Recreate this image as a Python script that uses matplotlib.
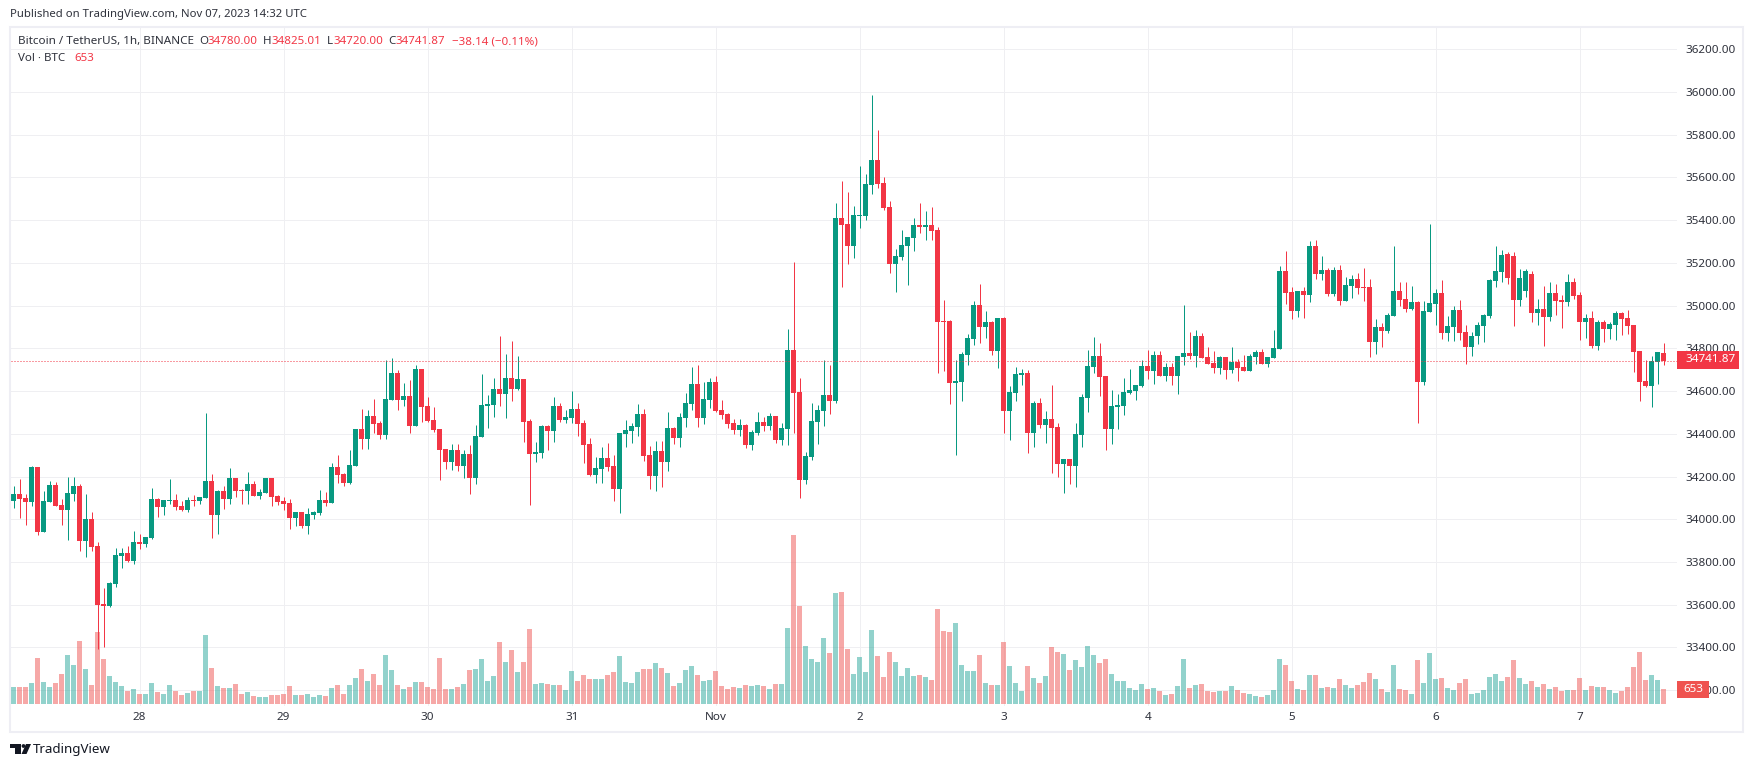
import matplotlib
matplotlib.use("Agg")
import matplotlib.pyplot as plt
from matplotlib.patches import Rectangle, Polygon, Circle
import numpy as np

W, H = 1754, 767
plt.rcParams['font.family'] = ['Noto Sans', 'DejaVu Sans']

#hourly candles, Oct 27 03:00 to Nov 7 14:00
opens = [
34087,34118,34099,34081,34244,33940,34081,34160,34067,34043,34118,34155,33898,34001,33875,33603,33594,33697,33828,33842,
33804,33893,33884,33912,34095,34057,34085,34090,34062,34043,34090,34085,34099,34179,34020,34132,34095,34193,34137,34132,
34165,34109,34123,34193,34109,34085,34076,34006,34034,33968,34020,34029,34090,34076,34244,34212,34170,34249,34422,34375,
34483,34450,34394,34558,34684,34558,34577,34436,34703,34530,34464,34422,34329,34268,34324,34249,34305,34193,34385,34530,
34535,34609,34586,34661,34609,34656,34460,34305,34310,34436,34413,34530,34464,34474,34516,34450,34352,34207,34235,34286,
34249,34141,34399,34413,34431,34492,34300,34202,34319,34268,34427,34380,34474,34539,34633,34474,34558,34642,34511,34492,
34450,34418,34441,34347,34403,34455,34436,34483,34371,34422,34792,34595,34183,34293,34455,34506,34581,34553,35410,35382,
35279,35419,35419,35564,35681,35574,35461,35194,35227,35279,35316,35377,35368,35377,35354,34928,34928,34637,34642,34769,
34843,35003,34900,34923,34787,34942,34506,34591,34675,34684,34404,34544,34441,34469,34432,34258,34282,34249,34394,34567,
34712,34764,34670,34422,34525,34530,34591,34600,34623,34717,34694,34769,34670,34712,34670,34759,34778,34764,34857,34759,
34731,34708,34759,34698,34736,34712,34694,34759,34783,34727,34755,34797,35162,35063,34974,35068,35049,35279,35148,35166,
35054,35166,35021,35092,35124,35087,35087,34829,34900,34881,34951,35068,35031,34984,35017,34642,34970,35007,35059,34872,
34900,34979,34876,34806,34857,34904,34951,35115,35157,35240,35230,35026,35070,35150,34967,34982,34946,35059,35026,35017,
35110,35049,34923,34942,34811,34923,34890,34909,34965,34942,34909,34787,34647,34623,34738,34780]
closes = [
34118,34095,34081,34244,33940,34085,34160,34062,34043,34123,34155,33898,34001,33870,33599,33594,33702,33832,33842,33804,
33893,33884,33917,34095,34057,34090,34090,34057,34043,34090,34085,34104,34179,34020,34132,34095,34193,34132,34132,34165,
34109,34127,34193,34104,34081,34071,34006,34034,33968,34024,34034,34090,34076,34244,34207,34170,34254,34422,34375,34483,
34446,34394,34563,34684,34558,34577,34436,34703,34525,34460,34418,34324,34268,34324,34249,34305,34193,34389,34535,34539,
34609,34586,34661,34609,34656,34455,34305,34315,34436,34413,34530,34464,34478,34516,34446,34347,34207,34240,34286,34244,
34141,34403,34418,34436,34492,34296,34202,34319,34268,34427,34380,34478,34544,34633,34474,34562,34642,34506,34488,34446,
34418,34441,34347,34408,34455,34436,34483,34371,34427,34792,34591,34183,34296,34460,34511,34581,34553,35410,35377,35279,
35424,35424,35569,35681,35569,35457,35194,35232,35283,35321,35377,35368,35377,35349,34923,34923,34637,34647,34773,34848,
35003,34900,34923,34787,34942,34506,34595,34680,34684,34404,34544,34441,34469,34427,34258,34282,34249,34399,34572,34717,
34764,34666,34422,34530,34534,34595,34605,34628,34717,34694,34769,34670,34712,34670,34764,34778,34764,34857,34755,34727,
34708,34759,34698,34736,34708,34694,34764,34783,34727,34759,34801,35162,35059,34974,35068,35049,35279,35148,35166,35054,
35166,35021,35096,35124,35082,35082,34829,34900,34881,34956,35068,35026,34984,35017,34642,34974,35012,35059,34872,34904,
34979,34872,34806,34857,34909,34956,35119,35162,35236,35130,35026,35130,35160,34967,34982,34946,35059,35021,35017,35110,
35046,34923,34940,34811,34923,34890,34914,34965,34937,34904,34783,34642,34623,34741,34783,34741.87]
highs = [
34156,34188,34118,34249,34244,34132,34179,34174,34095,34198,34198,34165,34118,34034,33893,33678,33706,33865,33865,33875,
33945,33931,33917,34146,34099,34090,34188,34118,34085,34104,34113,34104,34497,34212,34137,34155,34240,34193,34141,34221,
34179,34141,34193,34193,34113,34104,34095,34034,34034,34053,34039,34137,34127,34263,34301,34216,34324,34422,34516,34511,
34563,34460,34744,34755,34698,34638,34652,34722,34703,34572,34525,34422,34329,34352,34352,34324,34347,34441,34680,34581,
34661,34858,34773,34834,34764,34656,34469,34361,34441,34441,34572,34544,34511,34600,34544,34464,34380,34291,34338,34357,
34300,34403,34464,34450,34539,34516,34343,34366,34366,34502,34431,34497,34591,34712,34722,34642,34661,34670,34558,34497,
34469,34469,34446,34417,34502,34478,34497,34483,34450,34890,35204,34661,34315,34544,34535,34745,34722,35480,35583,35531,
35466,35653,35616,35985,35822,35602,35489,35265,35354,35321,35410,35480,35442,35461,35368,35026,34932,34745,34783,34867,
35021,35101,34974,34928,34942,34946,34623,34712,34703,34698,34553,34567,34506,34628,34451,34282,34282,34451,34586,34792,
34853,34825,34670,34605,34586,34661,34703,34628,34745,34792,34787,34787,34731,34731,34764,35003,34876,34886,34872,34806,
34787,34764,34759,34806,34750,34769,34773,34792,34797,34759,34886,35185,35255,35087,35068,35087,35302,35307,35232,35176,
35180,35190,35133,35143,35152,35176,35124,34937,34918,34965,35279,35110,35110,35091,35021,35021,35382,35077,35119,34951,
34998,35026,34909,34876,34923,34960,35124,35279,35260,35250,35250,35170,35170,35160,35031,35090,35110,35100,35050,35150,
35130,35062,34960,34975,34933,34933,34923,34975,34970,34979,34909,34787,34745,34764,34783,34825.01]
lows = [
34053,34006,33973,34062,33926,33940,34081,34062,33973,33903,34085,33851,33823,33851,33393,33400,33589,33683,33772,33800,
33790,33861,33870,33907,34010,34020,34071,34043,34039,34034,34062,34071,34099,33912,33931,34048,34071,34104,34071,34071,
34109,34095,34123,34062,34067,34043,33954,33968,33959,33931,34001,34020,34062,34076,34170,34155,34165,34249,34329,34329,
34404,34375,34375,34558,34511,34530,34403,34436,34455,34455,34408,34184,34235,34230,34226,34191,34118,34165,34385,34427,
34478,34530,34474,34553,34605,34361,34067,34268,34287,34324,34361,34455,34450,34450,34390,34263,34202,34171,34168,34226,
34085,34029,34338,34357,34390,34272,34141,34132,34151,34226,34352,34338,34431,34511,34431,34446,34520,34502,34469,34427,
34399,34390,34333,34324,34394,34413,34417,34357,34347,34347,34403,34099,34165,34277,34352,34436,34492,34544,35087,35194,
35223,35363,35400,35522,35550,35447,35152,35063,35213,35096,35255,35340,35307,35307,34684,34694,34539,34301,34553,34722,
34815,34825,34848,34769,34708,34403,34371,34553,34628,34310,34338,34427,34357,34216,34198,34123,34165,34151,34338,34502,
34684,34577,34324,34352,34422,34488,34586,34558,34619,34656,34633,34670,34647,34628,34586,34722,34750,34712,34755,34727,
34684,34680,34656,34684,34647,34694,34694,34727,34727,34712,34755,34797,35007,34937,34946,34942,35017,35124,35119,35045,
35045,35003,35021,35035,35054,35021,34759,34773,34806,34872,34951,34998,34970,34979,34450,34628,34970,34909,34843,34834,
34834,34839,34727,34764,34820,34829,34942,35087,35110,35100,34904,35000,35040,34925,34909,34811,34928,34956,34895,35000,
35030,34839,34848,34801,34792,34829,34843,34839,34862,34867,34689,34553,34619,34525,34633,34720]
volumes = [
740,740,740,914,2001,957,740,914,1305,2132,1697,2741,1523,827,3132,1958,1218,957,783,566,
653,435,435,914,522,435,827,566,392,479,566,566,3002,1566,783,696,696,870,435,522,
348,305,305,392,392,435,783,392,392,435,305,392,348,696,827,435,827,1131,1523,1001,
1305,827,2132,1479,827,653,740,957,957,740,653,2001,653,653,740,870,1479,1523,1958,1001,
1218,2697,1827,2349,1392,1827,3263,870,914,870,827,827,609,1436,1001,1262,1088,1088,1088,1262,
1392,2088,957,914,1392,1523,1523,1784,1566,1349,783,914,1479,1653,1262,1001,1044,1436,783,653,
740,696,827,783,827,783,653,870,870,3306,7352,4263,2523,1958,1827,2871,2219,4829,4872,2393,
1305,2045,1392,3219,2088,1175,2262,1827,1218,1566,1218,1262,1175,1044,4133,3176,3132,3524,1697,1436,
1436,2132,914,827,827,2697,1653,914,566,1653,1131,914,1218,2480,2262,2175,1479,1914,1610,2523,
2132,1784,1958,1305,1001,1001,696,609,870,653,696,566,392,435,783,1958,696,827,870,566,
522,566,566,783,609,479,435,348,305,392,609,1958,1697,1001,653,609,1262,1262,696,740,
696,1088,827,696,827,957,1349,1088,653,522,1697,653,609,435,1914,914,2219,1088,1131,696,
609,914,1088,435,479,609,1175,1305,1001,1175,1914,1131,870,1001,740,870,653,740,566,609,
609,1131,609,783,740,740,609,479,566,740,1610,2262,1044,1262,1044,653]

day_labels = ['28', '29', '30', '31', 'Nov', '2', '3', '4', '5', '6', '7']
day_index = [21, 45, 69, 93, 117, 141, 165, 189, 213, 237, 261]
price_ticks = list(range(33200, 36400, 200))
last_price = 34741.87
last_volume = 653

GREEN = '#089981'
RED = '#f23645'
VOL_GREEN = '#26a69a'
VOL_RED = '#ef5350'
GRID = '#efeff2'
FRAME = '#eeeef4'
TEXT = '#2f323c'

fig = plt.figure(figsize=(W / 100, H / 100), dpi=100)

# pane in pixels: x 11..1677, y 27..706
rect = [11 / W, 1 - 706 / H, 1666 / W, 679 / H]
ax = fig.add_axes(rect)
ax_vol = ax.twinx()
ax_c = ax.twinx()
ax.set_zorder(1)
ax_vol.set_zorder(2)
ax_c.set_zorder(3)
ax_vol.patch.set_visible(False)
ax_c.patch.set_visible(False)

xlim = (-0.4167, 277.17)
ylim = (33126, 36303.6)
for a in (ax, ax_vol, ax_c):
    a.set_xlim(xlim)
    for s in a.spines.values():
        s.set_visible(False)
ax.set_ylim(ylim)
ax_c.set_ylim(ylim)
ax_vol.set_ylim(-87, 29450)
ax_vol.set_yticks([])
ax_c.set_yticks([])

# grid and scales
ax.set_xticks(day_index)
ax.set_xticklabels(day_labels)
ax.set_yticks(price_ticks)
ax.set_yticklabels(['%.2f' % p for p in price_ticks])
ax.yaxis.tick_right()
ax.tick_params(axis='y', length=0, pad=5.8, labelsize=8.4, labelcolor=TEXT)
ax.tick_params(axis='x', length=0, pad=4.2, labelsize=8.4, labelcolor=TEXT)
ax.grid(True, color=GRID, lw=0.72)
ax.set_axisbelow(True)

o = np.array(opens)
c = np.array(closes)
idx = np.arange(len(o))
up = c >= o
colors = np.where(up, GREEN, RED)

# volume
ax_vol.bar(idx, volumes, width=5 / 6, color=np.where(up, VOL_GREEN, VOL_RED), alpha=0.5, lw=0)

# candles
ax_c.vlines(idx, lows, highs, colors=colors, lw=0.72)
bot = np.minimum(o, c)
hgt = np.maximum(np.abs(c - o), 5)
ax_c.bar(idx, hgt, bottom=bot, width=5 / 6, color=colors, lw=0)
last_line = ax_c.axhline(last_price, color=RED, lw=0.72, ls=(0, (1, 2)))
last_line.set_snap(True)

# overlay in pixel coordinates for the frame, the legend and the price tags
over = fig.add_axes([0, 0, 1, 1], zorder=10)
over.set_xlim(0, W)
over.set_ylim(H, 0)
over.axis('off')
over.add_patch(Rectangle((10, 27), 1733, 705, fill=False, ec=FRAME, lw=1.5))

def label(x, y, s, color=TEXT, size=8.4, ha='left'):
    over.text(x, y, s, color=color, fontsize=size, ha=ha, va='center')

label(10, 14.5, 'Published on TradingView.com, Nov 07, 2023 14:32 UTC', size=8.15)
label(18, 41.5, 'Bitcoin / TetherUS, 1h, BINANCE', size=8.4)
label(199, 41.5, 'O', size=8.3)
label(208, 41.5, '34780.00', RED, 8.3)
label(263, 41.5, 'H', size=8.3)
label(271, 41.5, '34825.01', RED, 8.3)
label(327, 41.5, 'L', size=8.3)
label(333, 41.5, '34720.00', RED, 8.3)
label(388, 41.5, 'C', size=8.3)
label(396, 41.5, '34741.87', RED, 8.3)
label(452, 41.5, '\u221238.14 (\u22120.11%)', RED, 8.3)
label(18, 58.5, 'Vol \u00b7 BTC', size=8.3)
label(74, 58.5, str(last_volume), RED, 8.3)

over.add_patch(Rectangle((1677, 351), 62, 18, fc=RED, ec='none'))
label(1710, 360, '%.2f' % last_price, 'white', 8.4, 'center')
over.add_patch(Rectangle((1677, 681), 32, 17, fc=VOL_RED, ec='none'))
label(1693, 689.5, str(last_volume), 'white', 8.4, 'center')

# TradingView logo
logo = '#131722'
over.add_patch(Polygon([(10, 744), (21, 744), (21, 754), (15, 754), (15, 748), (10, 748)], fc=logo, ec='none'))
over.add_patch(Circle((23.5, 746), 1.9, fc=logo, ec='none'))
over.add_patch(Polygon([(26, 744), (31, 744), (26.5, 754), (21.5, 754)], fc=logo, ec='none'))
over.text(33, 749, 'TradingView', color=logo, fontsize=9.6, ha='left', va='center')

fig.savefig('out.png', dpi=100)
